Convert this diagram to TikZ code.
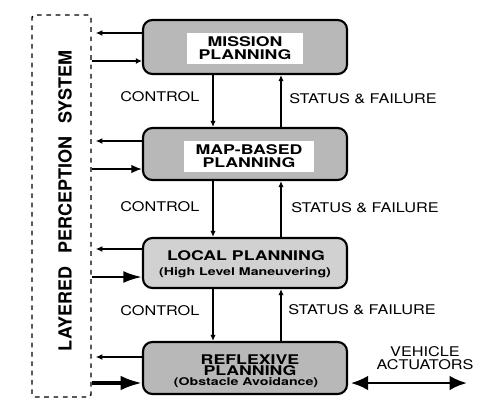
\documentclass[tikz,border=0pt]{standalone}
\usepackage{fontspec}
\newfontfamily\lblfont[FakeStretch=1.22]{TeX Gyre Heros}
\newfontfamily\boxfont[FakeStretch=1.33]{TeX Gyre Heros}
\newfontfamily\sidefont{TeX Gyre Heros}
\usetikzlibrary{arrows.meta,calc}
\begin{document}
\begin{tikzpicture}[x=0.75pt,y=-0.75pt,
  plan/.style={draw, line width=1.6pt, rounded corners=7pt, fill=black!28, minimum width=153pt, inner sep=0pt},
  ttl/.style={font=\boxfont\bfseries\fontsize{10}{9.75}\selectfont, align=center, inner sep=0pt},
  sub/.style={font=\boxfont\bfseries\fontsize{8}{8}\selectfont, inner sep=0pt},
  lbl/.style={font=\lblfont\fontsize{10}{9.75}\selectfont, inner sep=0pt, anchor=west},
  flow/.style={line width=1.1pt, -{Latex[length=4.5pt,width=4pt]}},
  outarr/.style={line width=1.1pt, -{Latex[length=5pt,width=4.5pt]}, shorten >=3pt},
  inarr/.style={line width=1.1pt, -{Latex[length=4.5pt,width=4.5pt]}},
  backdrop/.style={fill=white, inner xsep=9pt, inner ysep=3pt}
]
\useasboundingbox (0,0) rectangle (488,410);

% perception system
\node[draw, line width=1.1pt, dash pattern=on 3.5pt off 3.5pt, rounded corners=2pt,
      minimum width=44.25pt, minimum height=286.5pt, inner sep=0pt] (lps) at (61.5,206) {};
\node[rotate=90, inner sep=0pt, font=\sidefont\bfseries\fontsize{13.5}{14}\selectfont] (lpst) at (65,201)
  {LAYERED\hspace{6pt} PERCEPTION\hspace{6pt} SYSTEM};

% planning boxes
\node[plan, minimum height=40.5pt] (mission) at (245,47) {};
\node[plan, minimum height=39pt] (map) at (245,154) {};
\node[plan, minimum height=37.5pt, fill=black!18] (local) at (245,263) {};
\node[plan, minimum height=39pt] (reflex) at (245,368) {};

\node[ttl, backdrop] (missiont) at (245,48.5) {MISSION\\PLANNING};
\node[ttl, backdrop] (mapt) at (249,156.5) {MAP-BASED\\PLANNING};
\node[ttl] (localt) at (246,256) {LOCAL PLANNING};
\node[sub] (locals) at (245,272.5) {(High Level Maneuvering)};
\node[ttl] (reflext) at (250,359.5) {REFLEXIVE};
\node[ttl] (reflexp) at (250,371) {PLANNING};
\node[sub] (reflexs) at (246,383) {(Obstacle Avoidance)};

% control / status
\coordinate (cx) at (213,0);
\coordinate (sx) at (281,0);
\draw[flow] (mission.south -| cx) -- (map.north -| cx);
\draw[flow] (map.north -| sx) -- (mission.south -| sx);
\draw[flow] (map.south -| cx) -- (local.north -| cx);
\draw[flow] (local.north -| sx) -- (map.south -| sx);
\draw[flow] (local.south -| cx) -- (reflex.north -| cx);
\draw[flow] (reflex.north -| sx) -- (local.south -| sx);

\node[lbl] (c1) at (120,97) {CONTROL};
\node[lbl] (c2) at (120,207) {CONTROL};
\node[lbl] (c3) at (120,311) {CONTROL};
\node[lbl] (s1) at (289,99) {STATUS \& FAILURE};
\node[lbl] (s2) at (291,208) {STATUS \& FAILURE};
\node[lbl] (s3) at (288,310) {STATUS \& FAILURE};

% perception links
\coordinate (m1) at ($(mission.west)+(0,-14)$);
\coordinate (m2) at ($(mission.west)+(0,14)$);
\coordinate (p1) at ($(map.west)+(0,-13)$);
\coordinate (p2) at ($(map.west)+(0,15)$);
\coordinate (l1) at ($(local.west)+(0,-14)$);
\coordinate (l2) at ($(local.west)+(0,14)$);
\coordinate (r1) at ($(reflex.west)+(0,-11)$);
\coordinate (r2) at ($(reflex.west)+(0,15)$);

\draw[outarr] (m1) -- (m1 -| lps.east);
\draw[outarr] (p1) -- (p1 -| lps.east);
\draw[outarr] (l1) -- (l1 -| lps.east);
\draw[outarr] (r1) -- (r1 -| lps.east);

\draw[inarr] (m2 -| lps.east) -- (m2);
\draw[line width=1.2pt, -{Latex[length=8pt,width=6.5pt]}] (p2 -| lps.east) -- (p2);
\draw[line width=1.8pt, -{Latex[length=14pt,width=9pt]}] (l2 -| lps.east) -- (l2);
\draw[line width=2.5pt, -{Latex[length=16pt,width=11pt]}] (r2 -| lps.east) -- (r2);

% actuators
\coordinate (va) at (467,383);
\coordinate (vr) at ($(reflex.east)+(0,15)$);
\draw[line width=2.2pt, {Latex[length=13pt,width=11pt]}-{Latex[length=13pt,width=11pt]}, shorten <=2pt] (vr) -- (va);
\node[font=\lblfont\fontsize{10}{9.75}\selectfont, align=center, inner sep=0pt] (veh) at (425,358.5) {VEHICLE\\ACTUATORS};
\end{tikzpicture}
\end{document}
